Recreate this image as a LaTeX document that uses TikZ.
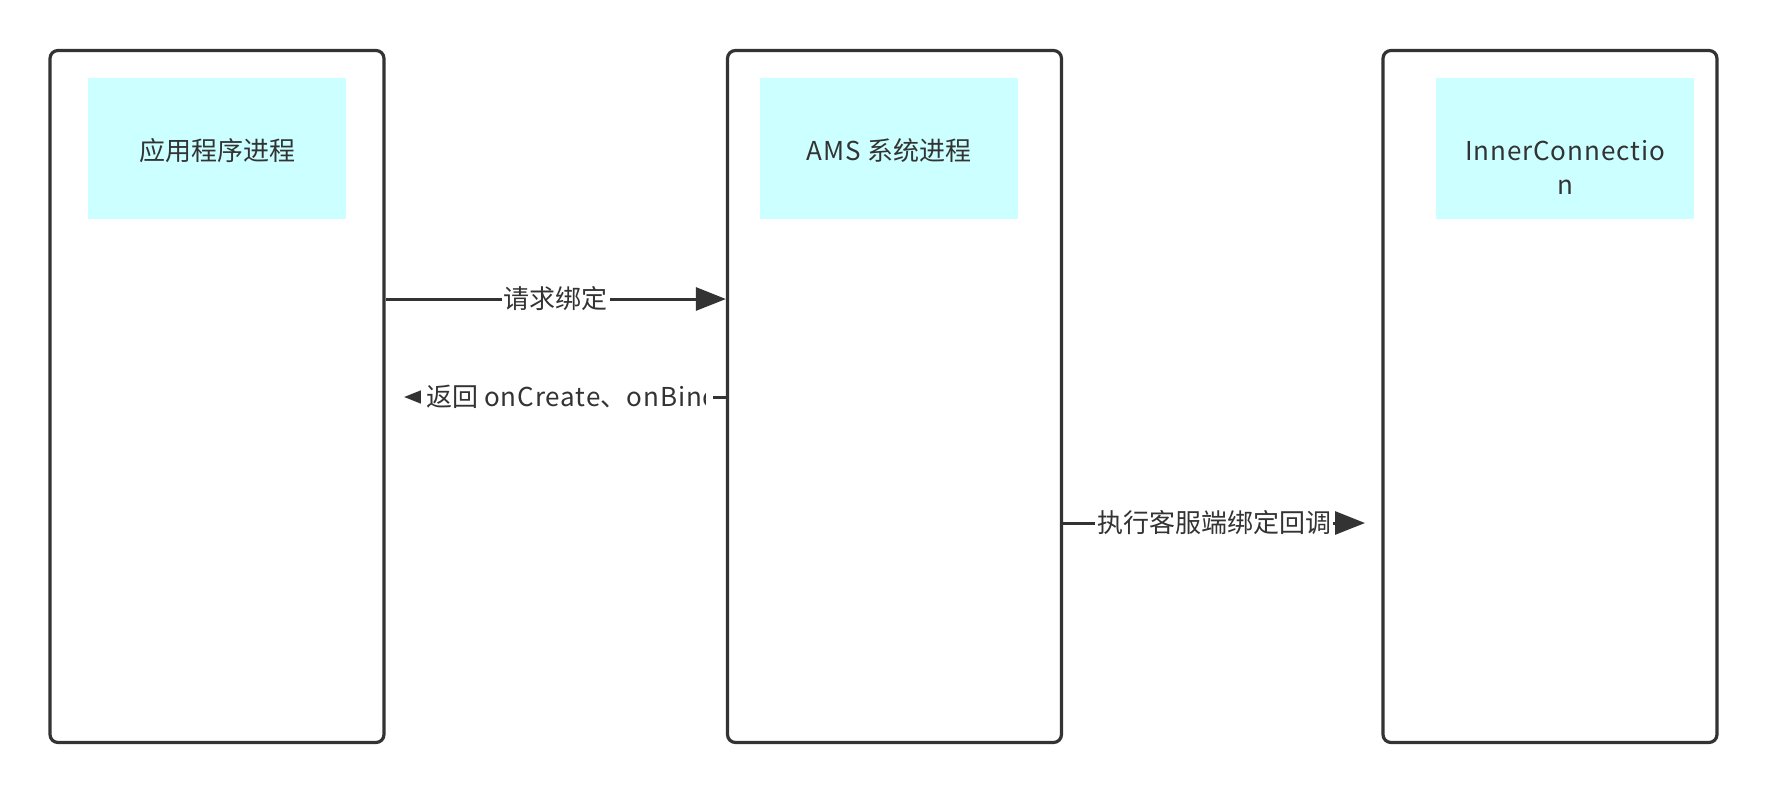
\documentclass[tikz,border=0pt]{standalone}
\usepackage{fontspec}
\setmainfont{Noto Sans CJK SC}
\newfontfamily\widelatin{Noto Sans CJK SC}[LetterSpace=3.5]
\usetikzlibrary{arrows.meta}
\definecolor{edgegray}{HTML}{333333}
\definecolor{titlecyan}{HTML}{CCFFFF}
\tikzset{
  procbox/.style={draw=edgegray, line width=1.6pt, rounded corners=4pt, fill=white,
    minimum width=167pt, minimum height=346pt},
  titlebox/.style={fill=titlecyan, minimum width=129pt, minimum height=70.5pt},
  titletext/.style={text=edgegray, align=center, inner sep=0pt, font=\fontsize{13}{17}\selectfont},
  msg/.style={draw=edgegray, line width=1.5pt, -{Triangle[length=15pt,width=11.5pt]}},
  msglbl/.style={fill=white, text=edgegray, inner sep=1pt, font=\fontsize{13}{17}\selectfont}
}

\begin{document}
\begin{tikzpicture}[x=0.5pt,y=-0.5pt]
        \useasboundingbox (0,0) rectangle (1768,794);
        % process boxes
        \node[procbox] (app) at (217,396.5) {};
        \node[procbox] (ams) at (894.5,396.5) {};
        \node[procbox] (inner) at (1550,396.5) {};
        % titles
        \node[titlebox] (apptitle) at (217,148.5) {};
        \node[titlebox] (amstitle) at (889,148.5) {};
        \node[titlebox] (innertitle) at (1565,148.5) {};
        \node[titletext] (apptext) at (217,151) {应用程序进程};
        \node[titletext] (amstext) at (889,151) {{\widelatin AMS} 系统进程};
        \node[titletext, font=\fontsize{13}{17}\selectfont\widelatin] (innertext) at (1565,167) {InnerConnectio\\n};
        % request bind
        \draw[msg] (app.east |- 0,299) -- node[msglbl] (reqlbl) {请求绑定} (ams.west |- 0,299);
        % return onCreate / onBind
        \coordinate (rettip) at (404,397);
        \draw[msg] (ams.west |- rettip) -- (rettip);
        \node[fill=white, inner sep=0pt, minimum width=146pt, minimum height=14pt] (retbg) at (566.5,397) {};
        \begin{scope}
          \clip (retbg.west) ++(0,-20) rectangle (705,420);
          \node[msglbl, fill=none, inner sep=0pt, anchor=west] (retlbl) at (426,397)
            {返回 {\widelatin onCreate}、{\widelatin onBind}};
        \end{scope}
        % client bind callback
        \coordinate (cbtip) at (1365,523);
        \draw[msg] (ams.east |- cbtip) -- node[msglbl] (cblbl) {执行客服端绑定回调} (cbtip);
\end{tikzpicture}
\end{document}
